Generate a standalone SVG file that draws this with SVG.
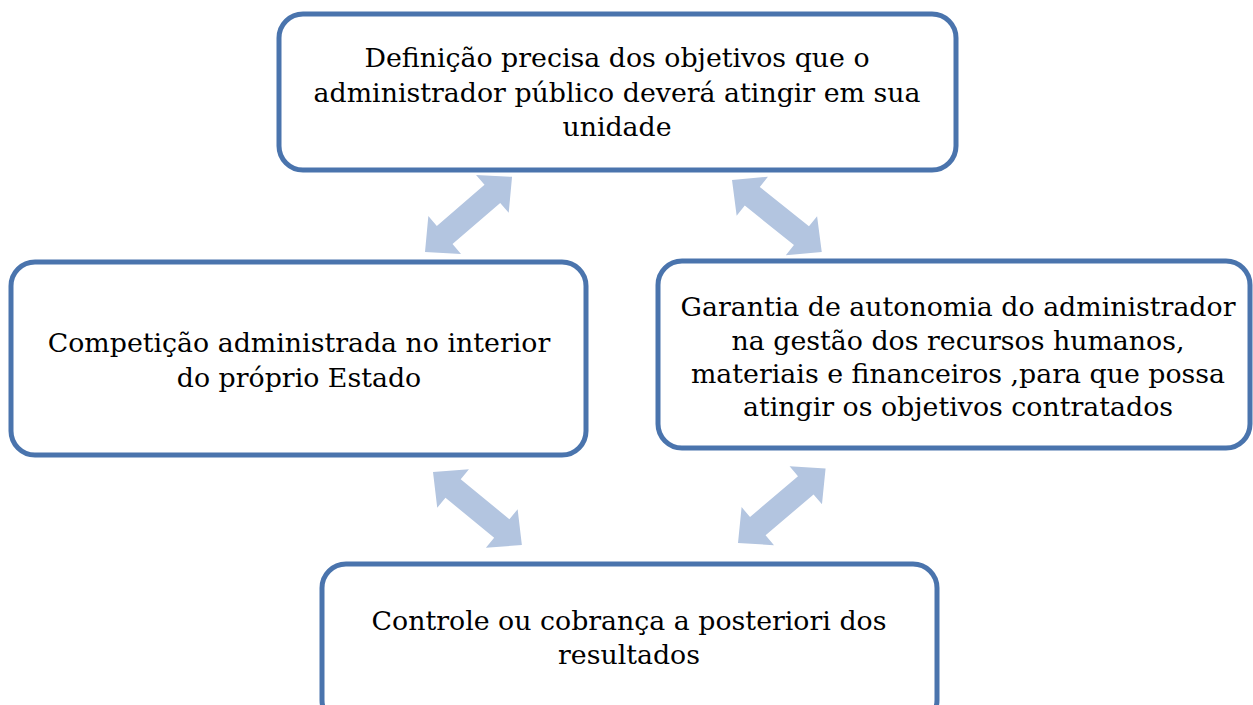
<svg xmlns="http://www.w3.org/2000/svg" width="1253" height="705" viewBox="0 0 1253 705">
<defs>
<style>
.box{fill:#fff;stroke:#4a74ad;stroke-width:5}
.t{font-family:"DejaVu Serif","Liberation Serif",serif;font-size:26.8px;fill:#000;text-anchor:middle}
.arr{fill:#b3c5e0}
</style>
<path id="da" d="M0,0 L26,-25 L26,-12 L89,-12 L89,-25 L115,0 L89,25 L89,12 L26,12 L26,25 Z"/>
</defs>
<rect width="1253" height="705" fill="#fff"/>
<g id="connectors">
<use href="#da" class="arr" transform="translate(425,252) rotate(-40.8)"/>
<use href="#da" class="arr" transform="translate(732,180) rotate(38.7)"/>
<use href="#da" class="arr" transform="translate(433,472) rotate(39.4)"/>
<use href="#da" class="arr" transform="translate(738,543) rotate(-40.4)"/>
</g>
<g id="n1">
<rect class="box" x="279" y="14" width="677" height="156" rx="24"/>
<text class="t" x="617" y="67">Definição precisa dos objetivos que o</text>
<text class="t" x="617" y="102">administrador público deverá atingir em sua</text>
<text class="t" x="617" y="136">unidade</text>
</g>
<g id="n2">
<rect class="box" x="11" y="262" width="575" height="193" rx="24"/>
<text class="t" x="299" y="352">Competição administrada no interior</text>
<text class="t" x="299" y="387">do próprio Estado</text>
</g>
<g id="n3">
<rect class="box" x="658" y="261" width="592" height="187" rx="24"/>
<text class="t" x="958" y="316">Garantia de autonomia do administrador</text>
<text class="t" x="958" y="350">na gestão dos recursos humanos,</text>
<text class="t" x="958" y="383">materiais e financeiros ,para que possa</text>
<text class="t" x="958" y="416">atingir os objetivos contratados</text>
</g>
<g id="n4">
<rect class="box" x="322" y="564" width="615" height="160" rx="24"/>
<text class="t" x="629" y="630">Controle ou cobrança a posteriori dos</text>
<text class="t" x="629" y="664">resultados</text>
</g>
</svg>
